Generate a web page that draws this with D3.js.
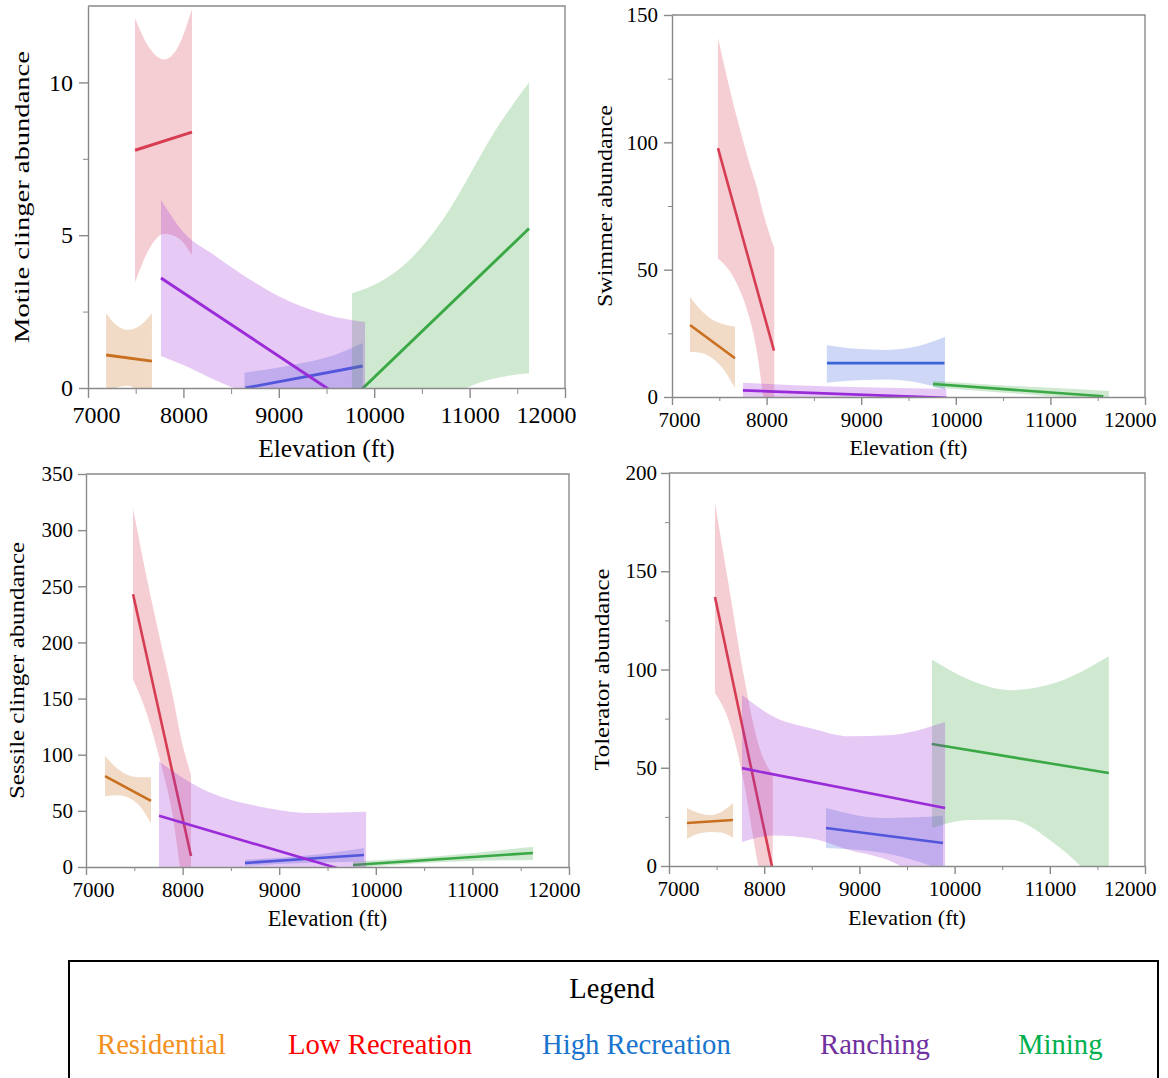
<!DOCTYPE html>
<html>
<head>
<meta charset="utf-8">
<script src="https://cdn.jsdelivr.net/npm/d3@7"></script>
<style>
  body { margin: 0; background: #fff; }
</style>
</head>
<body>
<div id="chart"></div>
<script>
// ---- data ----
const groups = ["Residential", "Low Recreation", "High Recreation", "Ranching", "Mining"];
const xTicks = [7000, 8000, 9000, 10000, 11000, 12000];
const xMinorTicks = [7500, 8500, 9500, 10500, 11500];
const yTitles = ["Motile clinger abundance", "Swimmer abundance", "Sessile clinger abundance", "Tolerator abundance"];

const motileTicks = [0, 5, 10];
const motileMinor = [2.5, 7.5];
const swimTicks = [0, 50, 100, 150];
const swimMinor = [25, 75, 125];
const sessileTicks = [0, 50, 100, 150, 200, 250, 300, 350];
const sessileMinor = [];
const tolTicks = [0, 50, 100, 150, 200];
const tolMinor = [25, 75, 125, 175];

// fitted lines, one per group: [x0, y0, x1, y1]
const motileFit = [
  [7190, 1.08, 7670, 0.88],
  [7493, 7.78, 8090, 8.37],
  [8650, 0.0, 9880, 0.72],
  [7765, 3.6, 9904, -0.83],
  [9767, -0.35, 11623, 5.22]
];
// confidence bands, one per group: [x, lower, upper]
const motileBand = [
  [[7190, -0.37, 2.45], [7300, 0.01, 2.05], [7420, 0.07, 1.9], [7550, -0.19, 2.05], [7670, -0.69, 2.45]],
  [[7493, 3.45, 12.1], [7650, 4.6, 11.1], [7800, 5.05, 10.75], [7950, 4.9, 11.2], [8090, 4.35, 12.4]],
  [[8640, -0.5, 0.5], [9013, -0.26, 0.68], [9300, -0.07, 0.85], [9600, 0, 1.1], [9880, -0.03, 1.47]],
  [[7765, 1.05, 6.15], [8000, 0.75, 5.1], [8300, 0.3, 4.4], [8600, -0.1, 3.75], [9000, -0.7, 3.0], [9500, -1.4, 2.4], [9904, -2.1, 2.16]],
  [[9767, -3.8, 3.1], [10060, -2.2, 3.47], [10400, -1.2, 4.28], [10760, -0.4, 5.7], [10970, 0, 6.8], [11245, 0.3, 8.3], [11623, 0.48, 10.0]]
];

const swimFit = [
  [7190, 28.3, 7666, 15.2],
  [7486, 97.7, 8078, 18.2],
  [8638, 13.3, 9880, 13.3],
  [7750, 2.6, 9900, -0.36],
  [9759, 5.1, 11560, 0.3]
];
const swimBand = [
  [[7190, 17.8, 39.3], [7310, 17.3, 34], [7433, 15, 30.2], [7550, 10.6, 28.5], [7666, 3.4, 27.6]],
  [[7486, 54.5, 141], [7684, 44.6, 110], [7825, 30.2, 91], [7895, 18.4, 82.6], [7966, 0, 72], [8081, -25, 58.5]],
  [[8637, 5.6, 20.4], [8950, 6.6, 18.9], [9271, 6.9, 18.5], [9580, 5.8, 19.8], [9886, 2.8, 23.7]],
  [[7750, -0.4, 5.6], [8300, -0.8, 4.6], [8900, -1.5, 3.9], [9400, -2.2, 3.5], [9900, -3.9, 3.2]],
  [[9759, 3.8, 6.4], [10300, 2.3, 5.0], [10900, 0.6, 3.8], [11619, -1.5, 2.4]]
];

const sessileFit = [
  [7197, 81, 7673, 58.9],
  [7487, 242.9, 8087, 9.8],
  [8646, 3.6, 9878, 10.7],
  [7756, 45.6, 9900, -8.6],
  [9764, 1.8, 11627, 12.5]
];
const sessileBand = [
  [[7197, 63, 99], [7320, 64, 88], [7435, 62, 82], [7550, 55, 80], [7673, 39, 80]],
  [[7487, 167, 319.6], [7628, 137, 258], [7766, 95, 203], [7904, 42, 150], [7973, 0, 119], [8087, -60, 82]],
  [[8646, 1, 6.5], [9260, 3.5, 10], [9878, 5, 17]],
  [[7756, -3, 94], [8180, -15, 70.5], [8870, -35, 52.6], [9350, -50, 48], [9900, -66, 49.1]],
  [[9764, -1, 4.8], [10700, 4.5, 10], [11627, 6.2, 18]]
];

const tolFit = [
  [7189, 21.9, 7672, 23.4],
  [7483, 136.9, 8085, -1],
  [8649, 19.3, 9878, 11.7],
  [7767, 49.8, 9900, 29.5],
  [9760, 62.1, 11620, 47.3]
];
const tolBand = [
  [[7189, 13.7, 29.5], [7310, 16.5, 27], [7430, 17.3, 25.9], [7550, 17, 27.5], [7672, 14.2, 32]],
  [[7483, 88, 184.7], [7641, 72, 138.9], [7781, 44, 98], [7939, 0, 62], [8090, -25, 46.3]],
  [[8649, 9.1, 29.5], [9260, 6.6, 24.4], [9878, -2, 25.4]],
  [[7767, 12.2, 87], [8100, 15.5, 76], [8500, 14, 70], [8900, 8, 66], [9300, 3, 66.5], [9900, -15, 73.3]],
  [[9763, 19.3, 105.1], [10160, 23.4, 94.6], [10580, 23.5, 89.5], [11035, 12, 92.9], [11620, -15, 106.8]]
];

// ---- styling / layout ----
const W = 1168, H = 1078;
const serif = "'Liberation Serif', 'Times New Roman', serif";
const axisColor = "#8a8a8a";
const lineColors = ["#c8701f", "#d63c52", "#3a64dc", "#9a2bd8", "#3aa845"];
const legendColors = ["#f39020", "#ff0000", "#1874cd", "#7030a0", "#00b050"];
const drawOrder = [0, 1, 2, 4, 3];

const panels = [
  { fit: motileFit, band: motileBand, ticks: motileTicks, minor: motileMinor, yMax: 12.5, title: yTitles[0],
    left: 88, right: 565, top: 6, bottom: 388, tickFont: 24, xLabelFont: 25.5, xLabelY: 457,
    yLabelX: 29, yLabelFont: 21, yLabelLen: 292, xTick: [10, 6, 8], yTick: [9, 5, 6],
    firstOff: 16, lastOff: 11, lineW: 2.9 },
  { fit: swimFit, band: swimBand, ticks: swimTicks, minor: swimMinor, yMax: 150, title: yTitles[1],
    left: 672, right: 1145, top: 15, bottom: 397, tickFont: 21, xLabelFont: 22, xLabelY: 455,
    yLabelX: 612, yLabelFont: 20, yLabelLen: 202, xTick: [8, 4, 7], yTick: [8, 4, 6],
    firstOff: 14, lastOff: 11, lineW: 2.6 },
  { fit: sessileFit, band: sessileBand, ticks: sessileTicks, minor: sessileMinor, yMax: 350, title: yTitles[2],
    left: 86, right: 569, top: 474, bottom: 867, tickFont: 21, xLabelFont: 22.3, xLabelY: 926,
    yLabelX: 24, yLabelFont: 20, yLabelLen: 257, xTick: [8, 4, 7], yTick: [8, 4, 5],
    firstOff: 14, lastOff: 11, lineW: 2.6 },
  { fit: tolFit, band: tolBand, ticks: tolTicks, minor: tolMinor, yMax: 200, title: yTitles[3],
    left: 669, right: 1145, top: 473, bottom: 866, tickFont: 21, xLabelFont: 22, xLabelY: 925,
    yLabelX: 609, yLabelFont: 20, yLabelLen: 202, xTick: [8, 4, 7], yTick: [8, 4, 4],
    firstOff: 12, lastOff: 11, lineW: 2.6 }
];

const legendX = [97, 288, 542, 820, 1018];

const svg = d3.select("#chart").append("svg")
  .attr("width", W)
  .attr("height", H)
  .attr("viewBox", [0, 0, W, H])
  .style("font-family", serif);

svg.append("rect").attr("width", W).attr("height", H).attr("fill", "#fff");

panels.forEach((p, i) => {
  const x = d3.scaleLinear().domain([7000, 12000]).range([p.left, p.right]);
  const y = d3.scaleLinear().domain([0, p.yMax]).range([p.bottom, p.top]);
  const g = svg.append("g");

  svg.append("clipPath").attr("id", "clip" + i)
    .append("rect")
    .attr("x", p.left).attr("y", p.top)
    .attr("width", p.right - p.left).attr("height", p.bottom - p.top);

  const plot = g.append("g").attr("clip-path", `url(#clip${i})`);

  const area = d3.area()
    .x(d => x(d[0]))
    .y0(d => y(d[1]))
    .y1(d => y(d[2]))
    .curve(d3.curveMonotoneX);
  const line = d3.line().x(d => x(d[0])).y(d => y(d[1]));

  drawOrder.forEach(k => {
    plot.append("path")
      .datum(p.band[k])
      .attr("d", area)
      .attr("fill", lineColors[k])
      .attr("fill-opacity", 0.25);
    const f = p.fit[k];
    plot.append("path")
      .datum([[f[0], f[1]], [f[2], f[3]]])
      .attr("d", line)
      .attr("fill", "none")
      .attr("stroke", lineColors[k])
      .attr("stroke-width", p.lineW);
  });

  // frame (top + right)
  g.append("path")
    .attr("d", `M${p.left},${p.top}H${p.right}V${p.bottom}`)
    .attr("fill", "none")
    .attr("stroke", axisColor)
    .attr("stroke-width", 1.4);

  // x axis
  const gx = g.append("g")
    .attr("transform", `translate(0,${p.bottom})`)
    .call(d3.axisBottom(x).tickValues(xTicks).tickSize(p.xTick[0]).tickPadding(p.xTick[2])
      .tickSizeOuter(0).tickFormat(d3.format("d")));
  g.append("g")
    .attr("transform", `translate(0,${p.bottom})`)
    .call(d3.axisBottom(x).tickValues(xMinorTicks).tickSize(p.xTick[1]).tickFormat(""))
    .call(a => a.select(".domain").remove())
    .attr("color", axisColor);

  // first and last labels are pushed inward, as in the original
  const xLabels = gx.selectAll(".tick text");
  const nLab = xLabels.size();
  xLabels.each(function(d, j) {
    if (j === 0) d3.select(this).attr("text-anchor", "start").attr("x", -p.firstOff);
    if (j === nLab - 1) d3.select(this).attr("text-anchor", "end").attr("x", p.lastOff);
  });

  // y axis
  const gy = g.append("g")
    .attr("transform", `translate(${p.left},0)`)
    .call(d3.axisLeft(y).tickValues(p.ticks).tickSize(p.yTick[0]).tickPadding(p.yTick[2])
      .tickSizeOuter(0));
  g.append("g")
    .attr("transform", `translate(${p.left},0)`)
    .call(d3.axisLeft(y).tickValues(p.minor).tickSize(p.yTick[1]).tickFormat(""))
    .call(a => a.select(".domain").remove())
    .attr("color", axisColor);

  [gx, gy].forEach(a => {
    a.attr("color", axisColor)
      .attr("font-family", serif)
      .attr("font-size", p.tickFont);
    a.selectAll("path, line").attr("stroke-width", 1.4);
    a.selectAll("text").attr("fill", "#000");
  });

  // axis titles
  g.append("text")
    .attr("x", (p.left + p.right) / 2)
    .attr("y", p.xLabelY)
    .attr("text-anchor", "middle")
    .attr("font-size", p.xLabelFont)
    .attr("fill", "#000")
    .text("Elevation (ft)");

  g.append("text")
    .attr("transform", `translate(${p.yLabelX},${(p.top + p.bottom) / 2}) rotate(-90)`)
    .attr("text-anchor", "middle")
    .attr("font-size", p.yLabelFont)
    .attr("textLength", p.yLabelLen)
    .attr("lengthAdjust", "spacingAndGlyphs")
    .attr("fill", "#000")
    .text(p.title);
});

// legend
const lg = svg.append("g");
lg.append("rect")
  .attr("x", 69).attr("y", 961)
  .attr("width", 1089).attr("height", 140)
  .attr("fill", "none")
  .attr("stroke", "#000")
  .attr("stroke-width", 2);

lg.append("text")
  .attr("x", 612).attr("y", 998)
  .attr("text-anchor", "middle")
  .attr("font-size", 28.5)
  .attr("fill", "#000")
  .text("Legend");

lg.selectAll("text.item")
  .data(groups)
  .join("text")
  .attr("class", "item")
  .attr("x", (d, i) => legendX[i])
  .attr("y", 1054)
  .attr("font-size", 28.7)
  .attr("fill", (d, i) => legendColors[i])
  .text(d => d);
</script>
</body>
</html>
